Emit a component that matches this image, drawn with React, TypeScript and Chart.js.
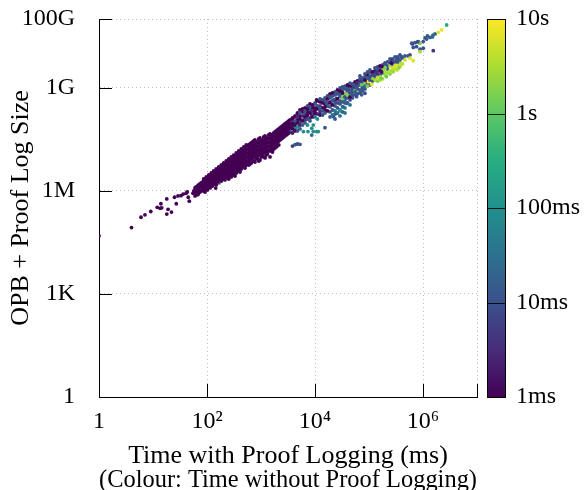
import { useEffect, useRef } from "react";
import { Chart, registerables } from "chart.js";

Chart.register(...registerables);

// ---- axis ticks ----
const xTickValues = [1, 1e2, 1e4, 1e6, 1e7];
const xTickLabels = ["1", "10²", "10⁴", "10⁶", ""];
const yTickValues = [1, 1e3, 1e6, 1e9, 1e11];
const yTickLabels = ["1", "1K", "1M", "1G", "100G"];
const colourTickValues = [1, 10, 100, 1000, 10000];
const colourTickLabels = ["1ms", "10ms", "100ms", "1s", "10s"];

const xTitle = ["Time with Proof Logging (ms)", "(Colour: Time without Proof Logging)"];
const yTitle = "OPB + Proof Log Size";

// ---- data: [time with proof logging (ms), OPB + proof log size (bytes), time without proof logging (ms)] ----
const lowerTail: [number, number, number][] = [
  [1, 4.9e4, 1], [4.0, 8.5e4, 1], [6.0, 1.7e5, 1], [7.1, 2.0e5, 1], [9.1, 2.5e5, 1],
  [12, 3.3e5, 1], [13.5, 3.1e5, 1], [14.5, 3.2e5, 1], [19, 2.9e5, 1], [22, 2.4e5, 1],
  [18, 2.1e5, 1], [14, 4.2e5, 1], [18, 5.8e5, 1], [27, 4.2e5, 1], [25, 6.5e5, 1],
  [29, 7.1e5, 1], [33, 7.2e5, 1], [36, 8.0e5, 1], [41, 8.5e5, 1], [43, 9.3e5, 1],
  [47, 5.0e5, 1], [45, 6.5e5, 1], [55, 8.5e5, 1], [57, 1.0e6, 1], [65, 1.05e6, 1],
  [71, 1.2e6, 1], [68, 7.8e5, 1], [79, 1.45e6, 1], [88, 1.7e6, 1], [95, 1.85e6, 1],
  [105, 2.0e6, 1], [115, 2.2e6, 1], [125, 2.5e6, 1], [137, 2.7e6, 1], [150, 3.0e6, 1],
  [145, 1.2e6, 1], [166, 1.7e6, 10],
];

const denseBand: [number, number, number][] = [
  [60, 1.21e6, 1], [60, 9.2e5, 1], [60, 7.1e5, 1],
  [67, 1.38e6, 1], [67, 1.06e6, 1], [67, 8.1e5, 1],
  [74, 1.58e6, 1], [74, 1.21e6, 1], [74, 9.2e5, 1],
  [83, 1.81e6, 1], [83, 1.38e6, 1], [83, 1.06e6, 1],
  [92, 2.07e6, 1], [92, 1.58e6, 1], [92, 1.21e6, 1], [92, 9.2e5, 1],
  [102, 2.37e6, 1], [102, 1.81e6, 1], [102, 1.38e6, 1], [102, 1.06e6, 1],
  [114, 2.7e6, 1], [114, 2.07e6, 1], [114, 1.58e6, 1], [114, 1.21e6, 1],
  [126, 3.09e6, 1], [126, 2.37e6, 1], [126, 1.81e6, 1], [126, 1.38e6, 1],
  [141, 3.53e6, 1], [141, 2.7e6, 1], [141, 2.07e6, 1], [141, 1.58e6, 1],
  [156, 4.04e6, 1], [156, 3.09e6, 1], [156, 2.37e6, 1], [156, 1.81e6, 1],
  [174, 4.62e6, 1], [174, 3.53e6, 1], [174, 2.7e6, 1], [174, 2.07e6, 1],
  [194, 5.28e6, 1], [194, 4.04e6, 1], [194, 3.09e6, 1], [194, 2.37e6, 1],
  [215, 6.04e6, 1], [215, 4.62e6, 1], [215, 3.53e6, 1], [215, 2.7e6, 1], [215, 2.07e6, 1],
  [240, 6.9e6, 1], [240, 5.28e6, 1], [240, 4.04e6, 1], [240, 3.09e6, 1], [240, 2.37e6, 1],
  [267, 7.89e6, 1], [267, 6.04e6, 1], [267, 4.62e6, 1], [267, 3.53e6, 1], [267, 2.7e6, 1],
  [296, 9.04e6, 1], [296, 6.9e6, 1], [296, 5.28e6, 1], [296, 4.04e6, 1], [296, 3.09e6, 1],
  [330, 1.03e7, 1], [330, 7.89e6, 1], [330, 6.04e6, 1], [330, 4.62e6, 1], [330, 3.53e6, 1], [330, 2.7e6, 1],
  [367, 1.18e7, 1], [367, 9.04e6, 1], [367, 6.9e6, 1], [367, 5.28e6, 1], [367, 4.04e6, 1],
  [408, 1.35e7, 1], [408, 1.03e7, 1], [408, 7.89e6, 1], [408, 6.04e6, 1], [408, 4.62e6, 1], [408, 3.53e6, 1],
  [454, 1.55e7, 1], [454, 1.18e7, 1], [454, 9.04e6, 1], [454, 6.9e6, 1], [454, 5.28e6, 1],
  [506, 1.77e7, 1], [506, 1.35e7, 1], [506, 1.03e7, 1], [506, 7.89e6, 1], [506, 6.04e6, 1], [506, 4.62e6, 1],
  [562, 2.02e7, 1], [562, 1.55e7, 1], [562, 1.18e7, 1], [562, 9.04e6, 1], [562, 6.9e6, 1],
  [625, 2.31e7, 1], [625, 1.77e7, 1], [625, 1.35e7, 1], [625, 1.03e7, 1], [625, 7.89e6, 1], [625, 6.04e6, 1],
  [697, 2.64e7, 1], [697, 2.02e7, 1], [697, 1.55e7, 1], [697, 1.18e7, 1], [697, 9.04e6, 1],
  [774, 3.02e7, 1], [774, 2.31e7, 1], [774, 1.77e7, 1], [774, 1.35e7, 1], [774, 1.03e7, 1], [774, 6.9e6, 1],
  [861, 2.64e7, 1], [861, 2.02e7, 1], [861, 1.55e7, 1], [861, 1.18e7, 1], [861, 9.04e6, 1],
  [957, 3.45e7, 1], [957, 2.64e7, 1], [957, 2.02e7, 1], [957, 1.55e7, 1], [957, 1.18e7, 1], [957, 7.89e6, 1],
  [1070, 3.02e7, 1], [1070, 2.31e7, 1], [1070, 1.77e7, 1], [1070, 1.35e7, 1], [1070, 1.03e7, 1],
  [1190, 3.94e7, 1], [1190, 3.02e7, 1], [1190, 2.31e7, 1], [1190, 1.77e7, 1], [1190, 1.35e7, 1], [1190, 9.04e6, 1],
  [1320, 3.45e7, 1], [1320, 2.64e7, 1], [1320, 2.02e7, 1], [1320, 1.55e7, 1], [1320, 1.18e7, 1],
  [1470, 4.51e7, 1], [1470, 3.45e7, 1], [1470, 2.64e7, 1], [1470, 2.02e7, 1], [1470, 1.55e7, 1], [1470, 9.7e6, 1],
  [1630, 3.94e7, 1], [1630, 3.02e7, 1], [1630, 2.31e7, 1], [1630, 1.77e7, 1], [1630, 1.35e7, 1],
  [1820, 5.15e7, 1], [1820, 3.94e7, 1], [1820, 3.02e7, 1], [1820, 2.31e7, 1], [1820, 1.77e7, 1],
  [2020, 5.9e7, 1], [2020, 4.51e7, 1], [2020, 3.45e7, 1], [2020, 2.64e7, 1], [2020, 2.02e7, 8],
  [2250, 6.75e7, 1], [2250, 5.15e7, 1], [2250, 3.94e7, 1], [2250, 3.02e7, 1],
  [2500, 7.71e7, 1], [2500, 5.9e7, 3], [2500, 4.51e7, 1], [2500, 3.45e7, 1],
  [2780, 8.81e7, 1], [2780, 6.75e7, 1], [2780, 5.15e7, 1], [2780, 3.94e7, 6],
  [3100, 1.01e8, 1], [3100, 7.71e7, 1], [3100, 5.9e7, 1], [3100, 4.51e7, 1],
  [3440, 1.15e8, 1], [3440, 8.81e7, 1], [3440, 6.75e7, 1], [3440, 5.15e7, 10],
];

const denseBandInner: [number, number, number][] = [
  [63, 1.29e6, 1], [63, 9.89e5, 1], [63, 7.57e5, 1],
  [70, 1.48e6, 1], [70, 1.13e6, 1], [70, 8.65e5, 1],
  [78, 1.69e6, 1], [78, 1.29e6, 1], [78, 9.89e5, 1],
  [87, 2.21e6, 1], [87, 1.69e6, 1], [87, 1.29e6, 1], [87, 9.89e5, 1],
  [97, 2.53e6, 1], [97, 1.93e6, 1], [97, 1.48e6, 1], [97, 1.13e6, 1],
  [108, 2.89e6, 1], [108, 2.21e6, 1], [108, 1.69e6, 1], [108, 1.29e6, 1],
  [120, 3.3e6, 1], [120, 2.53e6, 1], [120, 1.93e6, 1], [120, 1.48e6, 1],
  [133, 3.78e6, 1], [133, 2.89e6, 1], [133, 2.21e6, 1], [133, 1.69e6, 1],
  [148, 4.32e6, 1], [148, 3.3e6, 1], [148, 2.53e6, 1], [148, 1.93e6, 1], [148, 1.48e6, 1],
  [165, 4.94e6, 1], [165, 3.78e6, 1], [165, 2.89e6, 1], [165, 2.21e6, 1],
  [184, 5.65e6, 1], [184, 4.32e6, 1], [184, 3.3e6, 1], [184, 2.53e6, 1], [184, 1.93e6, 1],
  [204, 6.46e6, 1], [204, 4.94e6, 1], [204, 3.78e6, 1], [204, 2.89e6, 1], [204, 2.21e6, 1],
  [227, 7.38e6, 1], [227, 5.65e6, 1], [227, 4.32e6, 1], [227, 3.3e6, 1], [227, 2.53e6, 1],
  [253, 8.45e6, 1], [253, 6.46e6, 1], [253, 4.94e6, 1], [253, 3.78e6, 1], [253, 2.89e6, 1], [253, 2.21e6, 1],
  [281, 9.66e6, 1], [281, 7.38e6, 1], [281, 5.65e6, 1], [281, 4.32e6, 1], [281, 3.3e6, 1], [281, 2.53e6, 1],
  [313, 1.1e7, 1], [313, 8.45e6, 1], [313, 6.46e6, 1], [313, 4.94e6, 1], [313, 3.78e6, 1], [313, 2.89e6, 1],
  [348, 1.26e7, 1], [348, 9.66e6, 1], [348, 7.38e6, 1], [348, 5.65e6, 1], [348, 4.32e6, 1], [348, 3.3e6, 1],
  [387, 1.44e7, 1], [387, 1.1e7, 1], [387, 8.45e6, 1], [387, 6.46e6, 1], [387, 4.94e6, 1], [387, 3.78e6, 1],
  [431, 1.65e7, 1], [431, 1.26e7, 1], [431, 9.66e6, 1], [431, 7.38e6, 1], [431, 5.65e6, 1], [431, 4.32e6, 1],
  [480, 1.89e7, 1], [480, 1.44e7, 1], [480, 1.1e7, 1], [480, 8.45e6, 1], [480, 6.46e6, 1], [480, 4.94e6, 1],
  [533, 2.16e7, 1], [533, 1.65e7, 1], [533, 1.26e7, 1], [533, 9.66e6, 1], [533, 7.38e6, 1], [533, 5.65e6, 1],
  [593, 2.16e7, 1], [593, 1.65e7, 1], [593, 1.26e7, 1], [593, 9.66e6, 1], [593, 7.38e6, 1], [593, 5.65e6, 1],
  [659, 2.47e7, 1], [659, 1.89e7, 1], [659, 1.44e7, 1], [659, 1.1e7, 1], [659, 8.45e6, 1], [659, 6.46e6, 1],
  [734, 2.82e7, 1], [734, 2.16e7, 1], [734, 1.65e7, 1], [734, 1.26e7, 1], [734, 9.66e6, 1], [734, 7.38e6, 1],
  [817, 2.47e7, 1], [817, 1.89e7, 1], [817, 1.44e7, 1], [817, 1.1e7, 1], [817, 8.45e6, 1],
  [908, 3.23e7, 1], [908, 2.47e7, 1], [908, 1.89e7, 1], [908, 1.44e7, 1], [908, 1.1e7, 1], [908, 7.38e6, 1],
  [1010, 2.82e7, 1], [1010, 2.16e7, 1], [1010, 1.65e7, 1], [1010, 1.26e7, 1], [1010, 9.66e6, 1],
  [1125, 3.69e7, 1], [1125, 2.82e7, 1], [1125, 2.16e7, 1], [1125, 1.65e7, 1], [1125, 1.26e7, 1], [1125, 9.66e6, 1],
  [1250, 3.23e7, 1], [1250, 2.47e7, 1], [1250, 1.89e7, 1], [1250, 1.44e7, 1], [1250, 1.1e7, 1],
  [1393, 4.22e7, 1], [1393, 3.23e7, 1], [1393, 2.47e7, 1], [1393, 1.89e7, 1], [1393, 1.44e7, 1],
  [1549, 4.22e7, 1], [1549, 3.23e7, 1], [1549, 2.47e7, 1], [1549, 1.89e7, 1], [1549, 1.44e7, 1],
  [1722, 4.82e7, 1], [1722, 3.69e7, 1], [1722, 2.82e7, 1], [1722, 2.16e7, 1], [1722, 1.65e7, 1],
  [1916, 5.52e7, 1], [1916, 4.22e7, 1], [1916, 3.23e7, 1], [1916, 2.47e7, 1], [1916, 1.89e7, 1],
  [2133, 6.31e7, 1], [2133, 4.82e7, 1], [2133, 3.69e7, 1], [2133, 2.82e7, 1], [2133, 2.16e7, 1],
  [2372, 7.21e7, 1], [2372, 5.52e7, 1], [2372, 4.22e7, 1], [2372, 3.23e7, 1],
  [2637, 8.24e7, 1], [2637, 6.31e7, 1], [2637, 4.82e7, 1], [2637, 3.69e7, 1],
  [2936, 9.43e7, 1], [2936, 7.21e7, 1], [2936, 5.52e7, 1], [2936, 4.22e7, 1],
  [3266, 1.08e8, 1], [3266, 8.24e7, 1], [3266, 6.31e7, 1], [3266, 4.82e7, 1],
];

const middleBand: [number, number, number][] = [
  [3830, 2.0e7, 5], [4270, 2.2e7, 10], [4740, 2.3e7, 8],
  [3830, 1.32e8, 1], [4270, 1.51e8, 1], [4740, 1.72e8, 10], [5270, 1.51e8, 1], [4270, 1.01e8, 3],
  [4740, 1.15e8, 1], [5270, 1.01e8, 8], [3830, 7.71e7, 1], [4270, 6.75e7, 2], [4270, 7.2e7, 100],
  [5870, 1.97e8, 1], [5870, 1.51e8, 3], [6530, 2.58e8, 1], [6530, 1.72e8, 8], [6530, 1.15e8, 2],
  [7260, 2.94e8, 10], [7260, 1.97e8, 1], [8080, 3.37e8, 1], [8080, 2.25e8, 10], [8080, 1.32e8, 3],
  [8990, 2.58e8, 1], [8990, 1.72e8, 12], [1.0e4, 3.37e8, 5], [1.0e4, 2.58e8, 1], [1.11e4, 2.94e8, 10],
  [1.11e4, 1.72e8, 4], [1.24e4, 3.85e8, 1], [1.24e4, 2.94e8, 8], [1.38e4, 4.41e8, 10], [1.38e4, 2.58e8, 1],
  [1.53e4, 5.04e8, 12], [1.53e4, 3.37e8, 1], [1.7e4, 5.75e8, 8], [1.7e4, 2.94e8, 15], [1.9e4, 6.58e8, 1],
  [1.9e4, 5.04e8, 10], [2.11e4, 5.75e8, 12], [2.35e4, 7.53e8, 10], [2.35e4, 4.41e8, 1], [2.61e4, 6.58e8, 15],
  [1.07e4, 4.4e8, 1], [1.53e4, 2.25e8, 1], [1.24e4, 2.0e8, 3], [1.0e4, 1.8e8, 1], [8700, 1.6e8, 5],
  [7000, 1.44e8, 1], [6100, 1.15e8, 10], [5270, 2.25e8, 1],
  [9300, 8.2e7, 100], [8700, 6.6e7, 100], [6100, 5.3e7, 100], [9300, 5.3e7, 100], [1.15e4, 5.3e7, 100],
  [8700, 4.2e7, 20], [1.53e4, 6.9e7, 12], [5270, 2.26e7, 12], [1.07e4, 5.3e7, 100], [7400, 5.3e7, 100],
  [1.9e4, 1.97e8, 12], [2.11e4, 2.25e8, 10], [2.35e4, 2.94e8, 15], [2.35e4, 1.72e8, 25], [2.61e4, 2.58e8, 12],
  [2.9e4, 3.37e8, 10], [2.9e4, 1.51e8, 30], [3.23e4, 3.85e8, 15], [3.23e4, 1.97e8, 12], [3.59e4, 4.41e8, 20],
  [3.59e4, 2.58e8, 50], [4.0e4, 5.04e8, 10], [4.45e4, 4.41e8, 12], [4.95e4, 5.04e8, 10],
  [3.9e4, 3.5e8, 25], [3.3e4, 2.8e8, 40], [2.9e4, 2.25e8, 30], [2.5e4, 1.8e8, 15], [2.2e4, 1.44e8, 12],
  [3.9e4, 8.6e8, 10], [3.3e4, 6.9e8, 12], [2.9e4, 5.5e8, 10], [2.5e4, 4.9e8, 8], [2.2e4, 4.4e8, 10],
  [1.9e4, 3.9e8, 5], [1.65e4, 3.5e8, 10], [3.3e4, 4.9e8, 1500], [4.45e4, 6.9e8, 1200],
  [5.9e4, 5.5e8, 10], [7.3e4, 6.2e8, 15], [8.4e4, 6.9e8, 10],
  [2.61e4, 8.61e8, 1], [2.9e4, 9.84e8, 10], [2.9e4, 7.53e8, 8], [3.23e4, 8.61e8, 12], [3.59e4, 1.12e9, 10],
  [3.59e4, 6.58e8, 1500], [4.0e4, 9.84e8, 12], [4.45e4, 1.12e9, 1], [4.45e4, 8.61e8, 10], [4.95e4, 1.29e9, 15],
  [4.95e4, 7.53e8, 10], [5.51e4, 1.47e9, 1], [5.51e4, 9.84e8, 10], [6.12e4, 1.12e9, 12], [6.12e4, 8.61e8, 2000],
];

const middleBandFill: [number, number, number][] = [
  [3830, 1.23e8, 1], [3830, 9.43e7, 1], [3830, 6.31e7, 1], [3830, 4.82e7, 2],
  [4270, 1.41e8, 1], [4270, 1.08e8, 10], [4270, 8.24e7, 1], [4270, 5.52e7, 1],
  [4740, 1.84e8, 1], [4740, 1.41e8, 3], [4740, 9.43e7, 1], [4740, 7.21e7, 100], [4740, 5.52e7, 8],
  [5270, 1.84e8, 10], [5270, 1.23e8, 1], [5270, 8.24e7, 2], [5270, 6.31e7, 12],
  [5870, 2.41e8, 1], [5870, 1.08e8, 1], [5870, 8.24e7, 15],
  [6530, 2.11e8, 10], [6530, 1.41e8, 1], [6530, 9.43e7, 12],
  [7260, 2.41e8, 1], [7260, 1.61e8, 1], [7260, 1.23e8, 8], [7260, 8.24e7, 100],
  [8080, 2.76e8, 8], [8080, 1.84e8, 1], [8080, 1.08e8, 12],
  [8990, 3.15e8, 1], [8990, 2.11e8, 3], [8990, 1.41e8, 1],
  [1.0e4, 3.6e8, 10], [1.0e4, 2.11e8, 1], [1.0e4, 1.41e8, 25],
  [1.11e4, 4.12e8, 1], [1.11e4, 2.41e8, 1], [1.11e4, 1.23e8, 100],
  [1.24e4, 4.71e8, 10], [1.24e4, 2.41e8, 12], [1.24e4, 1.61e8, 1],
  [1.38e4, 3.6e8, 1], [1.38e4, 2.11e8, 10], [1.38e4, 1.61e8, 8],
  [1.53e4, 4.12e8, 10], [1.53e4, 2.76e8, 1], [1.53e4, 1.84e8, 15],
  [1.7e4, 4.71e8, 1], [1.7e4, 3.6e8, 10], [1.7e4, 2.11e8, 1],
  [1.9e4, 5.38e8, 12], [1.9e4, 3.6e8, 1], [1.9e4, 2.76e8, 10], [1.9e4, 1.41e8, 20],
  [2.11e4, 7.04e8, 1], [2.11e4, 4.12e8, 10], [2.11e4, 3.15e8, 1], [2.11e4, 1.61e8, 30],
  [2.35e4, 6.16e8, 10], [2.35e4, 3.6e8, 12], [2.35e4, 2.11e8, 40], [2.35e4, 1.23e8, 15],
  [2.61e4, 7.04e8, 10], [2.61e4, 4.71e8, 1], [2.61e4, 3.6e8, 8], [2.61e4, 1.84e8, 30],
  [2.9e4, 8.05e8, 1], [2.9e4, 6.16e8, 12], [2.9e4, 4.12e8, 15], [2.9e4, 2.11e8, 100],
  [3.23e4, 1.05e9, 10], [3.23e4, 7.04e8, 1], [3.23e4, 5.38e8, 1500], [3.23e4, 2.76e8, 25],
  [3.59e4, 9.21e8, 12], [3.59e4, 5.38e8, 10], [3.59e4, 3.6e8, 12], [3.59e4, 1.84e8, 40],
  [4.0e4, 1.2e9, 1], [4.0e4, 8.05e8, 10], [4.0e4, 6.16e8, 2000], [4.0e4, 3.6e8, 15],
  [4.45e4, 1.37e9, 10], [4.45e4, 7.04e8, 12], [4.45e4, 5.38e8, 1], [4.45e4, 3.15e8, 30],
  [4.95e4, 1.05e9, 1], [4.95e4, 9.21e8, 10], [4.95e4, 6.16e8, 12],
  [5.51e4, 1.2e9, 10], [5.51e4, 8.05e8, 1500], [5.51e4, 6.16e8, 10],
  [6.12e4, 1.57e9, 1], [6.12e4, 1.37e9, 10], [6.12e4, 9.21e8, 12],
  [6.81e4, 1.8e9, 10], [6.81e4, 1.2e9, 12], [6.81e4, 7.04e8, 8],
  [7.58e4, 1.57e9, 1], [7.58e4, 1.37e9, 15], [7.58e4, 8.05e8, 10],
  [8.43e4, 2.06e9, 10], [8.43e4, 1.37e9, 2000], [8.43e4, 9.21e8, 12],
  [9.38e4, 2.35e9, 1], [9.38e4, 1.57e9, 10], [9.38e4, 1.37e9, 5],
  [1.04e5, 2.69e9, 10], [1.04e5, 2.06e9, 15], [1.04e5, 1.2e9, 10],
  [1.16e5, 2.35e9, 12], [1.16e5, 1.57e9, 10],
  [1.29e5, 3.08e9, 1], [1.29e5, 2.69e9, 12], [1.29e5, 1.8e9, 10],
  [1.44e5, 4.02e9, 10], [1.44e5, 1.57e9, 1500],
  [1.6e5, 3.52e9, 10], [1.6e5, 2.35e9, 12], [1.6e5, 2.06e9, 3000],
  [1.78e5, 4.6e9, 12], [1.78e5, 4.02e9, 1], [1.78e5, 2.69e9, 10], [1.78e5, 1.8e9, 4000],
  [1.98e5, 5.26e9, 10], [1.98e5, 2.35e9, 2500],
  [2.2e5, 3.52e9, 10], [2.2e5, 2.69e9, 3000],
  [2.45e5, 6.88e9, 10], [2.45e5, 5.26e9, 12], [2.45e5, 3.08e9, 3500],
  [2.72e5, 6.88e9, 15], [2.72e5, 6.01e9, 1], [2.72e5, 3.08e9, 2500],
  [3.03e5, 7.86e9, 10], [3.03e5, 3.52e9, 4000],
  [3.37e5, 7.86e9, 10], [3.37e5, 4.6e9, 6000],
  [3.75e5, 8.98e9, 10], [3.75e5, 5.26e9, 4000],
];

const upperBand: [number, number, number][] = [
  [7.8e4, 1.68e9, 10], [6.8e4, 1.5e9, 5], [5.9e4, 1.35e9, 3], [5.1e4, 1.2e9, 10], [7.3e4, 1.2e9, 1200],
  [1.12e5, 1.26e9, 7000], [9.7e4, 1.5e9, 8000],
  [6.81e4, 2.2e9, 10], [7.58e4, 1.92e9, 12], [8.43e4, 2.51e9, 8], [8.43e4, 1.68e9, 1], [9.38e4, 2.88e9, 10],
  [9.38e4, 1.92e9, 15], [1.04e5, 3.29e9, 12], [1.04e5, 1.68e9, 10], [1.16e5, 2.88e9, 1], [1.16e5, 1.92e9, 2000],
  [1.29e5, 3.76e9, 10], [1.29e5, 2.2e9, 12], [1.44e5, 3.29e9, 10], [1.44e5, 2.51e9, 8], [1.6e5, 4.3e9, 1],
  [7.58e4, 9.84e8, 10], [8.43e4, 1.12e9, 20], [6.81e4, 8.61e8, 12], [9.38e4, 1.12e9, 1500], [6.12e4, 6.58e8, 10],
  [5.51e4, 7.53e8, 15], [1.29e5, 1.68e9, 3000], [1.44e5, 1.92e9, 5000], [1.84e5, 3.3e9, 1500], [1.98e5, 2.88e9, 3000],
  [1.7e5, 2.9e9, 1], [1.6e5, 3.1e9, 1], [1.4e5, 2.74e9, 3], [1.2e5, 2.35e9, 6], [1.04e5, 2.1e9, 8],
  [1.6e5, 1.68e9, 3000], [1.7e5, 1.88e9, 1500],
  [1.98e5, 4.91e9, 10], [2.2e5, 5.62e9, 12], [2.2e5, 4.3e9, 10], [2.45e5, 5.62e9, 10], [2.45e5, 4.3e9, 2500],
  [2.72e5, 4.91e9, 10], [2.72e5, 3.76e9, 5000], [3.03e5, 5.62e9, 12], [3.03e5, 4.3e9, 6000], [3.37e5, 5.62e9, 10],
  [3.75e5, 6.43e9, 15], [4.17e5, 7.35e9, 10], [4.64e5, 6.43e9, 5000], [4.17e5, 4.91e9, 4000], [1.98e5, 3.76e9, 1500],
  [5.74e5, 9.0e9, 10], [5.3e5, 8.4e9, 10], [4.64e5, 8.4e9, 10], [4.0e5, 8.0e9, 12], [3.5e5, 7.0e9, 10],
  [3.2e5, 6.4e9, 10], [2.8e5, 5.9e9, 15], [2.6e5, 5.2e9, 1],
  [3.75e5, 4.1e9, 3000], [3.5e5, 3.7e9, 2000], [3.3e5, 3.3e9, 4000], [2.8e5, 2.9e9, 2500], [2.45e5, 2.5e9, 2000],
  [2.1e5, 2.1e9, 1200],
  [5.74e5, 7.2e9, 7000], [6.6e5, 6.1e9, 7000],
  [6.6e5, 1.49e10, 10], [7.6e5, 1.57e10, 12], [1.01e6, 1.41e10, 10], [8.8e5, 1.32e10, 12], [1.55e6, 1.2e10, 4],
  [8.8e5, 1.12e10, 3000],
  [1.01e6, 2.2e10, 12], [8.2e5, 2.2e10, 10], [7.1e5, 2.05e10, 12], [6.2e5, 1.97e10, 10], [8.8e5, 1.97e10, 1500],
  [7.91e5, 2.15e10, 8], [6.39e5, 1.88e10, 10],
  [1.53e6, 3.4e10, 25], [1.35e6, 2.9e10, 15], [1.17e6, 2.6e10, 15], [1.21e6, 3.21e10, 12], [1.09e6, 2.81e10, 10],
  [1.67e6, 3.67e10, 20], [1.5e6, 3.0e10, 25],
  [1.92e6, 4.1e10, 7000], [2.22e6, 4.8e10, 8000], [2.74e6, 6.7e10, 320],
];

// ---- colour map (viridis) ----
const viridisStops = [
  "#440154", "#472c7a", "#3b518b", "#2c718e", "#21908d", "#27ad81", "#5cc863", "#aadc32", "#fde725",
];
const colourMin = 1;
const colourMax = 10000;

function hexToRgb(h: string) {
  return [parseInt(h.slice(1, 3), 16), parseInt(h.slice(3, 5), 16), parseInt(h.slice(5, 7), 16)];
}

function viridis(t: number) {
  const tt = Math.max(0, Math.min(1, t));
  const s = tt * (viridisStops.length - 1);
  const i = Math.min(viridisStops.length - 2, Math.floor(s));
  const f = s - i;
  const a = hexToRgb(viridisStops[i]);
  const b = hexToRgb(viridisStops[i + 1]);
  const c = a.map((v, k) => Math.round(v + (b[k] - v) * f));
  return `rgb(${c[0]},${c[1]},${c[2]})`;
}

function colourFor(ms: number) {
  const t = (Math.log10(ms) - Math.log10(colourMin)) / (Math.log10(colourMax) - Math.log10(colourMin));
  return viridis(t);
}

const FONT = "'Liberation Serif', 'DejaVu Serif', serif";

const framePlugin = {
  id: "frame",
  afterDatasetsDraw(chart: any) {
    const { ctx, chartArea, scales } = chart;
    const xs = scales.x;
    const ys = scales.y;
    const cb = scales.cbar;
    ctx.save();
    ctx.strokeStyle = "#000";
    ctx.lineWidth = 1;
    ctx.beginPath();
    xTickValues.slice(1).forEach((v) => {
      const px = Math.round(xs.getPixelForValue(v)) + 0.5;
      ctx.moveTo(px, chartArea.bottom);
      ctx.lineTo(px, chartArea.bottom - 13);
    });
    yTickValues.slice(1).forEach((v) => {
      const py = Math.round(ys.getPixelForValue(v)) + 0.5;
      ctx.moveTo(chartArea.left, py);
      ctx.lineTo(chartArea.left + 13, py);
    });
    ctx.stroke();

    // colour bar
    const left = Math.round(cb.left) + 10;
    const w = 19;
    const top = Math.round(cb.top);
    const bottom = Math.round(cb.bottom);
    const grad = ctx.createLinearGradient(0, bottom, 0, top);
    viridisStops.forEach((c, i) => grad.addColorStop(i / (viridisStops.length - 1), c));
    ctx.fillStyle = grad;
    ctx.fillRect(left, top, w, bottom - top);
    ctx.strokeStyle = "#000";
    ctx.strokeRect(left + 0.5, top + 0.5, w - 1, bottom - top);
    ctx.beginPath();
    colourTickValues.slice(1, -1).forEach((v) => {
      const py = Math.round(cb.getPixelForValue(v)) + 0.5;
      ctx.moveTo(left, py);
      ctx.lineTo(left + w, py);
    });
    ctx.strokeStyle = "rgba(0,0,0,0.85)";
    ctx.stroke();
    ctx.restore();
  },
};

export default function App() {
  const canvasRef = useRef<HTMLCanvasElement | null>(null);

  useEffect(() => {
    if (!canvasRef.current) return;
    Chart.defaults.font.family = FONT;
    const all = [...lowerTail, ...denseBand, ...denseBandInner, ...middleBand, ...middleBandFill, ...upperBand];
    const points = all.map(([x, y]) => ({ x, y }));
    const colours = all.map(([, , c]) => colourFor(c));

    const gridColour = (ctx: any) => (ctx.index === 0 ? "rgba(0,0,0,0)" : "#bcbcbc");
    const noPadV = (s: any) => {
      s.paddingTop = 0;
      s.paddingBottom = 0;
    };

    const chart = new Chart(canvasRef.current, {
      type: "scatter",
      data: {
        datasets: [
          {
            data: points,
            pointBackgroundColor: colours,
            pointBorderWidth: 0,
            pointRadius: 1.9,
            pointHoverRadius: 1.9,
          } as any,
        ],
      },
      options: {
        animation: false,
        responsive: false,
        maintainAspectRatio: false,
        events: [],
        layout: { padding: { top: 19, left: 0, right: 0, bottom: 0 } },
        plugins: { legend: { display: false }, tooltip: { enabled: false } },
        scales: {
          x: {
            type: "logarithmic",
            position: "bottom",
            min: 1,
            max: 1e7,
            afterBuildTicks: (s: any) => {
              s.ticks = xTickValues.map((v) => ({ value: v }));
            },
            afterFit: (s: any) => {
              s.height = 93;
              s.paddingLeft = 0;
              s.paddingRight = 0;
            },
            ticks: {
              callback: (_v: any, i: number) => xTickLabels[i],
              font: { family: FONT, size: 24 },
              color: "#000",
              padding: 10,
              maxRotation: 0,
              minRotation: 0,
              autoSkip: false,
            },
            grid: { color: gridColour, drawTicks: false, lineWidth: 1 },
            border: { display: true, color: "#000", width: 1, dash: [1, 3] },
            title: {
              display: true,
              text: xTitle,
              color: "#000",
              font: { family: FONT, size: 26, lineHeight: 0.92 },
              padding: { top: 0, bottom: -2 },
            },
          },
          y: {
            type: "logarithmic",
            position: "left",
            min: 1,
            max: 1e11,
            afterBuildTicks: (s: any) => {
              s.ticks = yTickValues.map((v) => ({ value: v }));
            },
            afterFit: (s: any) => {
              s.width = 99;
              noPadV(s);
            },
            ticks: {
              callback: (_v: any, i: number) => yTickLabels[i],
              font: { family: FONT, size: 24 },
              color: "#000",
              padding: 24,
              autoSkip: false,
            },
            grid: { color: gridColour, drawTicks: false, lineWidth: 1 },
            border: { display: true, color: "#000", width: 1, dash: [1, 3] },
            title: {
              display: true,
              text: yTitle,
              color: "#000",
              font: { family: FONT, size: 26 },
              padding: { top: 6, bottom: 0 },
            },
          },
          cbar: {
            type: "logarithmic",
            axis: "y",
            position: "right",
            min: colourMin,
            max: colourMax,
            afterBuildTicks: (s: any) => {
              s.ticks = colourTickValues.map((v) => ({ value: v }));
            },
            afterFit: (s: any) => {
              s.width = 107;
              noPadV(s);
            },
            ticks: {
              callback: (_v: any, i: number) => colourTickLabels[i],
              font: { family: FONT, size: 24 },
              color: "#000",
              padding: 39,
              autoSkip: false,
            },
            grid: { display: false, drawTicks: false },
            border: { display: false },
          },
        } as any,
      },
      plugins: [framePlugin],
    });
    return () => chart.destroy();
  }, []);

  return (
    <div style={{ position: "fixed", left: 0, top: 0, width: 584, height: 490, background: "#fff" }}>
      <canvas ref={canvasRef} width={584} height={490} style={{ width: 584, height: 490 }} />
    </div>
  );
}
